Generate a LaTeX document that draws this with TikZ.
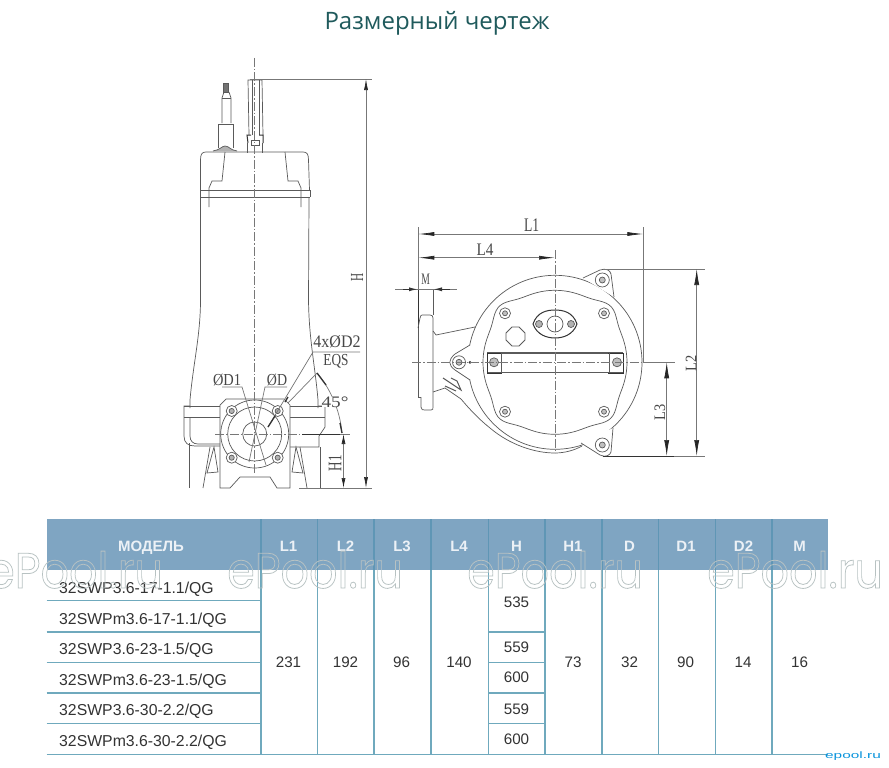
\documentclass[tikz,border=0pt]{standalone}
\usepackage{fontspec}
\setmainfont{Liberation Sans}
\newfontfamily\titlefont{Open Sans}
\newfontfamily\markfont{Poppins}
\newfontfamily\drawfont{Liberation Serif}
\usetikzlibrary{arrows.meta,calc}
\definecolor{hdr}{HTML}{7FA5C2}
\definecolor{hdrsep}{HTML}{5F96B5}
\definecolor{rowln}{HTML}{6FA9BD}
\definecolor{ink}{HTML}{5A5A5A}
\definecolor{dim}{HTML}{777777}
\definecolor{tealtitle}{HTML}{1F5A5C}
\newcommand{\hollow}[1]{\special{pdf:code q 1 Tr 0.7 w 0.72 0.76 0.76 RG}#1\special{pdf:code Q}}
\newcommand{\lb}[3]{\scalebox{#1}[#2]{#3}}
\tikzset{
  part/.style={draw=ink,line width=0.7pt},
  heavy/.style={draw=black!80,line width=1pt},
  dimln/.style={draw=dim,line width=0.7pt},
  centre/.style={draw=dim,line width=0.6pt,dash pattern=on 9pt off 2pt on 1.5pt off 2pt},
  lbl/.style={font=\drawfont\fontsize{16}{16}\selectfont,text=black!72,inner sep=0pt},
  cell/.style={font=\fontsize{15.2}{15.2}\selectfont,text=black!80,inner sep=0pt,anchor=base},
  mcell/.style={font=\fontsize{15.8}{15.8}\selectfont,text=black!80,inner sep=0pt,anchor=base west},
  head/.style={font=\bfseries\fontsize{15}{15}\selectfont,text=white!85!hdr,inner sep=0pt,anchor=base},
  wmark/.style={font=\markfont\fontsize{44.5}{44.5}\selectfont,inner sep=0pt,anchor=base west},
  vsep/.style={draw=rowln,line width=1.3pt},
  hsep/.style={draw=rowln,line width=1.3pt}
}
\begin{document}
\begin{tikzpicture}[x=1pt,y=-1pt]
\useasboundingbox (0,0) rectangle (889,768);
\fill[white] (0,0) rectangle (889,768);
\node[font=\titlefont\fontsize{24}{24}\selectfont,text=tealtitle,inner sep=0pt] (title) at (437,23) {Размерный чертеж};

%% ---------- side view of the pump ----------
% cable
\draw[part,fill=black!55] (223,83) rectangle (228,92);
\draw[part] (224,92) -- (222,98) -- (222,123) (229,92) -- (231,98) -- (231,123);
\draw[part] (222,98) -- (231,98);
\draw[part] (218,148) -- (218,124) -- (233,124) -- (233,148);
\draw[part,fill=black!30] (213,151) .. controls (220,150) and (222,146) .. (225,146) .. controls (229,146) and (230,150) .. (237,151);
% handle
\draw[part] (249,135) -- (248,80) -- (262,80) -- (263,135);
\draw[part] (252,80) -- (252,135) (259,80) -- (259,135);
\draw[heavy] (248,143) -- (247,135) -- (251,135) (259,135) -- (263,135) -- (263,143);
\draw[part] (251,140) rectangle (259,145);
\draw[part] (247,143) -- (247,153) (262,143) -- (262,153);
% head
\draw[part] (200.5,190) -- (200.5,160) .. controls (200.5,154) and (202,152) .. (206,152) -- (303,152) .. controls (307,152) and (308.5,154) .. (308.5,160) -- (309.5,190);
\draw[part] (225,152) -- (222,181) -- (212,181) -- (209,188) -- (209,207);
\draw[part] (285,152) -- (288,181) -- (298,181) -- (301,188) -- (301,207);
\draw[part] (222,190) -- (287,190);
\draw[part] (200.5,190) -- (310,190) (200.5,197) -- (310,197);
\draw[part] (200.5,190) -- (200.5,197) (310,190) -- (310,197);
% body
\draw[part] (200.5,197) -- (200.5,300) .. controls (200.5,335) and (193,365) .. (190,400) -- (190,408);
\draw[part] (309,197) -- (308.5,300) .. controls (309,340) and (315,365) .. (318,400) -- (318,408);
% flange band
\draw[part] (184,406) -- (325,406) (184,417) -- (325,417);
\draw[part] (190,406) -- (184,406) -- (184,436) .. controls (184,443) and (188,446) .. (195,446) -- (220,446);
\draw[part] (190,417) -- (190,436) .. controls (190,441) and (193,444) .. (198,444) -- (220,444);
\draw[part] (318,406) -- (325,406) -- (325,427) -- (319,436) -- (319,447) -- (290,447);
% square flange
\draw[part,fill=white] (220,405) -- (226,399) -- (284,399) -- (290,405) -- (290,488) -- (277,488) -- (270,477) -- (240,477) -- (230,488) -- (220,488) -- cycle;
% bolt circle
\draw[part] (254.7,434) circle[radius=34];
\draw[part] (254.7,434) circle[radius=27];
\draw[part] (254.7,434) circle[radius=12];
\foreach \bx/\by [count=\i] in {231.7/411,277.7/411,231.7/457.7,277.7/457.7}{
  \draw[part,fill=white] (\bx,\by) circle[radius=5.5];
  \draw[part,fill=black!30] (\bx,\by) circle[radius=2.6];
}
% base and feet
\draw[part] (189,443) -- (189,488);
\draw[part] (320,447) -- (320,488);
\draw[part] (203,488) -- (210,447) (207,473) -- (214,447) -- (218,472) -- cycle;
\draw[part] (307,488) -- (300,447) (303,473) -- (296,447) -- (292,472) -- cycle;
% centre lines
\draw[centre] (254.7,58) -- (254.7,474);
\draw[centre] (215,434) -- (302,434);
% pump dimensions
\coordinate (Htop) at (366,79);
\coordinate (Hbot) at (366,488);
\draw[dimln] (250,79) -- (372,79);
\draw[dimln] (299,488) -- (372,488);
\draw[dimln,{Latex[length=11pt,width=4pt,black!85]}-{Latex[length=11pt,width=4pt,black!85]}] (Htop) -- (Hbot);
\node[lbl,rotate=90] (Hlabel) at (357,277) {\lb{.7}{1.15}{H}};
\draw[heavy] (302,434) -- (340,434);
\draw[dimln] (340,434) -- (350,434);
\coordinate (Hatop) at (343.5,434);
\coordinate (Habot) at (343.5,488);
\draw[dimln,{Latex[length=10pt,width=4pt,black!85]}-{Latex[length=10pt,width=4pt,black!85]}] (Hatop) -- (Habot);
\node[lbl,rotate=90] (H1label) at (335,463) {\lb{.82}{1.2}{H1}};
% diameter call-outs
\node[lbl] (dOne) at (227,380) {\lb{.9}{1.05}{ØD1}};
\node[lbl] (dZero) at (277,380) {\lb{.87}{1.05}{ØD}};
\node[lbl] (dTwo) at (337,342) {\lb{1}{1.1}{4xØD2}};
\node[lbl] (eqs) at (336,361) {\lb{.83}{1.05}{EQS}};
\draw[dimln] (222,387) -- (242,387) -- (266,465);
\draw[dimln] (287,387) -- (265,387) -- (249,462);
\draw[dimln] (360,352) -- (313,352) -- (268,427);
\draw[line width=1.3pt,black!80] (288,397) -- (285,402);
\draw[line width=1.3pt,black!80] (275,416) -- (268,427);
\draw[dimln] (288,403) -- (317,373);
\draw[dimln] (317,373) .. controls (330,388) and (340,410) .. (342,433);
\draw[line width=1.3pt,black!80] (317,373) -- (326,385);
\draw[line width=1.3pt,black!80] (340,423) -- (342,433);
\node[lbl,fill=white] (angle) at (335,402) {\lb{1.2}{1}{45°}};

%% ---------- end view of the pump ----------
% neck
\draw[part] (433,331) -- (436,335) -- (475,327);
\draw[part] (433,392) -- (445,388) -- (461,399) .. controls (472,412) and (480,420) .. (490,428) .. controls (510,445) and (535,453) .. (555,453) .. controls (565,453) and (575,450) .. (582,446);
% flange
\draw[part] (418,328) -- (418,397);
\draw[heavy] (418,289) -- (418,328);
\draw[part] (421,397) -- (421,407) .. controls (421,410) and (423,410) .. (425,410) -- (431,410) .. controls (433,410) and (433,409) .. (433,407) -- (433,318) .. controls (433,316) and (432,315) .. (430,315) -- (422,315) .. controls (420,315) and (420,319) .. (418,328);
\draw[part] (418,397) -- (421,397);
\draw[part] (433,289) -- (433,315);
% main casing
\draw[part] (555,362.3) circle[radius=87];
\draw[part] plot[domain=0:358,samples=145,smooth cycle] ({555+(72+7*(0.5-0.5*cos(4*\x))^6)*cos(\x)},{362.3+(72+7*(0.5-0.5*cos(4*\x))^6)*sin(\x)});
% lugs
\draw[part,fill=white] (583,278) -- (600,270) .. controls (606,268) and (610,270) .. (611,274) -- (614,297);
\draw[part] (602.3,280) circle[radius=7];
\draw[part,fill=black!25] (602.3,280) circle[radius=3];
\draw[part,fill=white] (581,443) -- (600,455) .. controls (606,458) and (610,455) .. (611,452) -- (613,428);
\draw[part] (602.3,445) circle[radius=7];
\draw[part,fill=black!25] (602.3,445) circle[radius=3];
\draw[part,fill=white] (470,345) -- (455,354) .. controls (448,360) and (448,365) .. (455,370) -- (470,380);
\draw[part] (459,362.3) circle[radius=6.5];
\draw[part,fill=black!25] (459,362.3) circle[radius=3];
% cover bolts
\foreach \bx/\by in {505/313.3,604/313.3,505/411.7,604/411.7}{
  \draw[part] (\bx,\by) circle[radius=5.5];
  \draw[part,fill=black!25] (\bx,\by) circle[radius=2.5];
}
% cable gland
\draw[heavy] (533,324) .. controls (537,312) and (547,310) .. (555,310) .. controls (563,310) and (573,312) .. (577,324) .. controls (573,335) and (563,338) .. (555,338) .. controls (547,338) and (537,335) .. (533,324) -- cycle;
\draw[part] (555,324) circle[radius=8];
\draw[part,fill=black!30] (539,324) circle[radius=3.5];
\draw[part,fill=black!30] (571,324) circle[radius=3.5];
% plug
\draw[part,line width=0.9pt] (512,327) -- (519,327) -- (525,333) -- (525,340) -- (519,346) -- (512,346) -- (506,340) -- (506,333) -- cycle;
% arrow mark
\draw[part,line width=1pt] (443,378) -- (452,384) -- (461,390) -- (457,381) -- (451,378) (445,386) -- (456,391);
% bar
\draw[part] (487,352) -- (623,352) (487,353.5) -- (623,353.5) (487,372) -- (623,372);
\draw[heavy] (502,353) -- (487,353) -- (487,373) -- (502,373);
\draw[heavy] (608,353) -- (623,353) -- (623,373) -- (608,373);
\draw[part] (501,353) -- (501,373) (609,353) -- (609,373);
\draw[part,fill=black!25] (494,362.3) circle[radius=4.5];
\draw[part,fill=black!25] (617,362.3) circle[radius=4.5];
\draw[heavy] (470,362.3) circle[radius=0.8];
% centre lines
\draw[centre] (412,362.3) -- (643,362.3);
\draw[dimln] (643,362.3) -- (675,362.3);
\draw[centre] (555,250) -- (555,453);
% end view dimensions
\draw[dimln] (418.3,227) -- (418.3,289);
\draw[dimln] (643.3,227) -- (643.3,363);
\draw[dimln,{Latex[length=16pt,width=4pt,black!85]}-{Latex[length=16pt,width=4pt,black!85]}] (418.3,234) -- (643.3,234);
\draw[dimln,{Latex[length=16pt,width=4pt,black!85]}-{Latex[length=16pt,width=4pt,black!85]}] (418.3,257.7) -- (555,257.7);
\node[lbl] (L1label) at (531.7,225) {\lb{.85}{1.2}{L1}};
\node[lbl] (L4label) at (485,250) {\lb{.95}{1.1}{L4}};
\draw[dimln] (395,289.3) -- (457,289.3);
\draw[line width=1.2pt,black!80,-{Latex[length=9pt,width=4pt]}] (403,289.3) -- (418,289.3);
\draw[line width=1.2pt,black!80,-{Latex[length=9pt,width=4pt]}] (450,289.3) -- (433,289.3);
\node[lbl] (Mlabel) at (425.7,279) {\lb{.6}{1}{M}};
\draw[dimln] (603,269) -- (705,269);
\draw[dimln] (603,456) -- (705,456);
\draw[heavy] (603,456) -- (674,456);
\draw[dimln,{Latex[length=16pt,width=5pt,black!85]}-{Latex[length=16pt,width=5pt,black!85]}] (696.7,269) -- (696.7,456);
\draw[dimln,{Latex[length=16pt,width=5pt,black!85]}-{Latex[length=16pt,width=5pt,black!85]}] (666.7,362.3) -- (666.7,456);
\node[lbl,rotate=90] (L2label) at (691,363) {\lb{.9}{1}{L2}};
\node[lbl,rotate=90] (L3label) at (660,412) {\lb{.9}{1}{L3}};

%% ---------- table ----------
\fill[hdr] (46.7,519.3) rectangle (828,570);
\foreach \xx in {261,317.3,374,431,488.3,545,602,658.7,715.3,772}{
  \draw[draw=hdrsep,line width=1.3pt] (\xx,519.3) -- (\xx,570);
  \draw[vsep] (\xx,570) -- (\xx,754.3);
}
\foreach \yy in {600.7,632,662.7,693,723.7}{
  \draw[hsep] (46.7,\yy) -- (261,\yy);
}
\foreach \yy in {632,662.7,693,723.7}{
  \draw[hsep] (488.3,\yy) -- (545,\yy);
}
\draw[hsep] (46.7,754.3) -- (828,754.3);
% header cells
\node[head] (hModel) at (151,551.7) {МОДЕЛЬ};
\foreach \lab/\xx [count=\i] in {L1/288.5,L2/345.5,L3/402,L4/459,H/516.5,H1/573,D/629.5,D1/686,D2/743.5,M/799.5}{
  \node[head] (h\i) at (\xx,551.7) {\lab};
}
% model cells
\foreach \lab/\yy [count=\i] in {{32SWP3.6-17-1.1/QG}/593.3,{32SWPm3.6-17-1.1/QG}/624,{32SWP3.6-23-1.5/QG}/654,{32SWPm3.6-23-1.5/QG}/685,{32SWP3.6-30-2.2/QG}/715.7,{32SWPm3.6-30-2.2/QG}/746}{
  \node[mcell] (m\i) at (59,\yy) {\lab};
}
% merged cells
\foreach \lab/\xx [count=\i] in {231/288.5,192/345.5,96/401.5,140/459,73/573,32/629.5,90/685.5,14/743,16/799.5}{
  \node[cell] (v\i) at (\xx,667.3) {\lab};
}
% H cells
\foreach \lab/\yy [count=\i] in {535/607,559/652.3,600/682.7,559/714,600/744.3}{
  \node[cell] (hv\i) at (516.5,\yy) {\lab};
}
% watermarks
\foreach \xx [count=\i] in {-13,227,467,707}{
  \node[wmark] (wm\i) at (\xx,588) {\lb{1}{1.12}{\hollow{ePool.ru}}};
}
\node[font=\fontsize{11}{11}\selectfont,text=cyan!80!blue,inner sep=0pt] (corner) at (853,756) {\lb{1.4}{.85}{epool.ru}};
\end{tikzpicture}
\end{document}
